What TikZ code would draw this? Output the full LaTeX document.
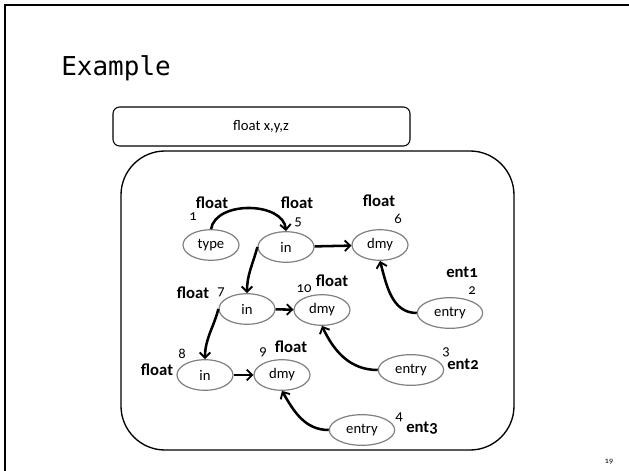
\documentclass[tikz,border=0pt]{standalone}
\usepackage{fontspec}
\setmainfont{Carlito}[Numbers=OldStyle]
\newfontfamily\titlefont{DejaVu Sans Mono}
\usetikzlibrary{shapes.geometric,arrows.meta}

\tikzset{
  var/.style={draw=gray,line width=0.9pt,ellipse,inner sep=0pt,minimum width=42pt,minimum height=23pt,font=\fontsize{11}{13}\selectfont},
  ent/.style={var,minimum width=49pt},
  flow/.style={-{Straight Barb[length=4pt,width=8pt,line width=1.4pt]},line width=1.9pt},
  tp/.style={font=\fontsize{12.5}{14}\bfseries\selectfont},
  num/.style={font=\fontsize{11}{13}\selectfont}
}

\begin{document}
\begin{tikzpicture}[x=0.75pt,y=-0.75pt]
\useasboundingbox (0,0) rectangle (629,471);
% slide frame
\draw[line width=1.6pt] (5,471) -- (5,5) -- (629,5);
\node[anchor=base west,inner sep=0pt,font=\titlefont\fontsize{19.5}{22}\selectfont] (title) at (61,75) {Example};
\node[font=\fontsize{6}{7}\selectfont] (pg) at (609,462) {19};

% declaration and table
\draw[rounded corners=5pt,line width=0.8pt] (113,107) rectangle (410,146);
\node[font=\fontsize{11}{13}\selectfont] (decl) at (261,127) {float x,y,z};
\draw[rounded corners=33pt,line width=1pt] (121,151) rectangle (514,450);

% nodes
\node[var] (type) at (211,245) {type};
\node[var] (in5) at (286,247) {in};
\node[var] (dmy6) at (380,245) {dmy};
\node[var] (in7) at (247,309) {in};
\node[var] (dmy10) at (322,310) {dmy};
\node[var] (in8) at (205,375) {in};
\node[var] (dmy9) at (282,375) {dmy};
\node[ent] (ent2) at (450,313) {entry};
\node[ent] (ent3) at (411,370) {entry};
\node[ent] (ent4) at (362,430) {entry};

% edges
\draw[flow] (type.north) to[out=80,in=95] (in5.north);
\draw[flow] (in5) -- (dmy6);
\draw[flow] (in5.west) to[out=255,in=90] (in7.north);
\draw[flow] (in7) -- (dmy10);
\draw[flow] (in7.west) to[out=255,in=90] (in8.north);
\draw[flow] (in8) -- (dmy9);
\draw[flow] (ent2.west) to[out=180,in=-75] (dmy6.south);
\draw[flow] (ent3.west) to[out=180,in=-65] (dmy10.south);
\draw[flow] (ent4.west) to[out=180,in=-60] (dmy9.south);

% labels
\node[tp] (f1) at (212,203) {float};
\node[num] (n1) at (193,217) {1};
\node[tp] (f5) at (297,203) {float};
\node[num] (n5) at (298,222) {5};
\node[tp] (f6) at (379,201) {float};
\node[num] (n6) at (398,219) {6};
\node[tp] (e1) at (462,272) {ent1};
\node[num] (n2) at (472,291) {2};
\node[tp] (f7) at (193,293) {float};
\node[num] (n7) at (221,292) {7};
\node[num] (n10) at (304,289) {10};
\node[tp] (f10) at (332,281) {float};
\node[num] (n8) at (182,354) {8};
\node[tp] (f8) at (157,370) {float};
\node[num] (n9) at (263,352) {9};
\node[tp] (f9) at (291,347) {float};
\node[num] (n3) at (446,352) {3};
\node[tp] (e2) at (463,364) {ent2};
\node[num] (n4) at (399,417) {4};
\node[tp] (e3) at (422,428) {ent3};
\end{tikzpicture}
\end{document}
